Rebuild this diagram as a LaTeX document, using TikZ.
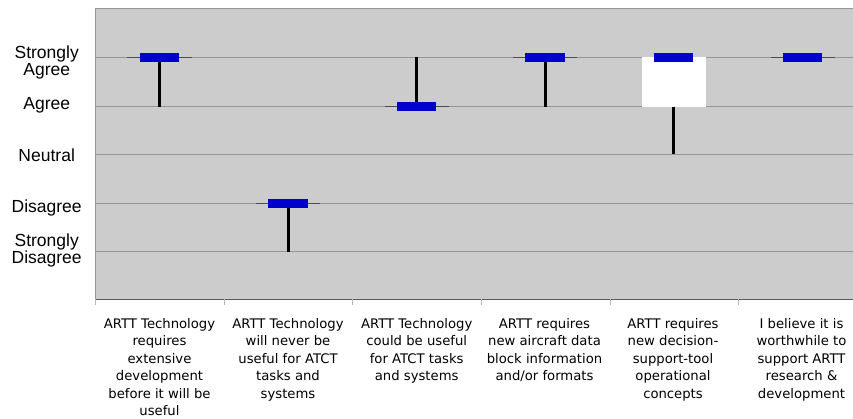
\documentclass[tikz,border=0pt]{standalone}
\usepackage{fontspec}
\setmainfont{Liberation Sans}
\newfontfamily\verdfont{DejaVu Sans}
\definecolor{plotbg}{RGB}{204,204,204}
\definecolor{gridc}{RGB}{150,150,150}
\definecolor{barblue}{RGB}{0,0,204}
\definecolor{tickc}{RGB}{185,185,185}
\begin{document}
\begin{tikzpicture}[x=1pt,y=-1pt,
  ylab/.style={font=\fontsize{17.5}{17}\selectfont, align=center, anchor=base, inner sep=0pt},
  ylabtwo/.style={font=\fontsize{17.5}{17}\selectfont, align=center, anchor=north, inner sep=0pt},
  xlab/.style={font=\verdfont\fontsize{13.2}{17.5}\selectfont, align=center, anchor=north, inner sep=0pt},
  gridline/.style={draw=gridc, line width=0.9pt},
  medline/.style={draw=gray!60!black, line width=0.9pt},
  barbox/.style={fill=barblue, draw=none, minimum width=39.5pt, minimum height=9.3pt, inner sep=0pt},
  whisker/.style={draw=black, line width=3pt},
  iqrbox/.style={fill=white, draw=none},
]
\useasboundingbox (0,0) rectangle (853,419);
% plot area
\fill[plotbg] (95,9) rectangle (853,299);
\draw[gridc, line width=1pt] (95,299) -- (95,9) -- (853,9);
\draw[gray!70!black, line width=0.8pt] (95,299) -- (853,299);
% grid
\foreach \y in {57.3,106.7,154.3,203.3,251.7} {
  \draw[gridline] (95,\y) -- (853,\y);
}
% ticks
\foreach \x in {95,224.3,352.7,481,610,738.3} {
  \draw[tickc, line width=0.8pt] (\x,299) -- (\x,305);
}
% y labels
\node[ylabtwo] (lsa) at (46.7,45.6) {Strongly\\Agree};
\node[ylab] (la) at (46.7,109.3) {Agree};
\node[ylab] (ln) at (46.7,161.5) {Neutral};
\node[ylab] (ld) at (46.7,212.5) {Disagree};
\node[ylabtwo] (lsd) at (46.7,234) {Strongly\\Disagree};

% item 5 IQR box
\fill[iqrbox] (642,57.3) rectangle (705.5,106.7);

% medians thin lines
\draw[medline] (127.3,57.3) -- (192.3,57.3);
\draw[medline] (256,203.3) -- (320,203.3);
\draw[medline] (384.7,106.7) -- (448.7,106.7);
\draw[medline] (513,57.3) -- (577,57.3);
\draw[medline] (770.5,57.3) -- (834.5,57.3);

% bars
\node[barbox] (b1) at (159.7,57.3) {};
\node[barbox] (b2) at (288,203.3) {};
\node[barbox] (b3) at (416.7,106.7) {};
\node[barbox] (b4) at (545,57.3) {};
\node[barbox] (b5) at (673.5,57.3) {};
\node[barbox] (b6) at (802.5,57.3) {};

% whisker ends
\coordinate (e1) at (159.7,106.7);
\coordinate (e2) at (288,251.7);
\coordinate (e3) at (416.7,57.3);
\coordinate (e4) at (545,106.7);
\coordinate (e5s) at (673.5,106.7);
\coordinate (e5) at (673.5,154.3);

\draw[whisker] (b1.south) -- (e1);
\draw[whisker] (b2.south) -- (e2);
\draw[whisker] (b3.north) -- (e3);
\draw[whisker] (b4.south) -- (e4);
\draw[whisker] (e5s) -- (e5);

% x labels
\node[xlab] (x1) at (159.5,318) {ARTT Technology\\requires\\extensive\\development\\before it will be\\useful};
\node[xlab] (x2) at (288,318) {ARTT Technology\\will never be\\useful for ATCT\\tasks and\\systems};
\node[xlab] (x3) at (416.7,318) {ARTT Technology\\could be useful\\for ATCT tasks\\and systems};
\node[xlab] (x4) at (544.5,318) {ARTT requires\\new aircraft data\\block information\\and/or formats};
\node[xlab] (x5) at (673,318) {ARTT requires\\new decision-\\support-tool\\operational\\concepts};
\node[xlab] (x6) at (801.5,318) {I believe it is\\worthwhile to\\support ARTT\\research \&\\development};
\end{tikzpicture}
\end{document}
